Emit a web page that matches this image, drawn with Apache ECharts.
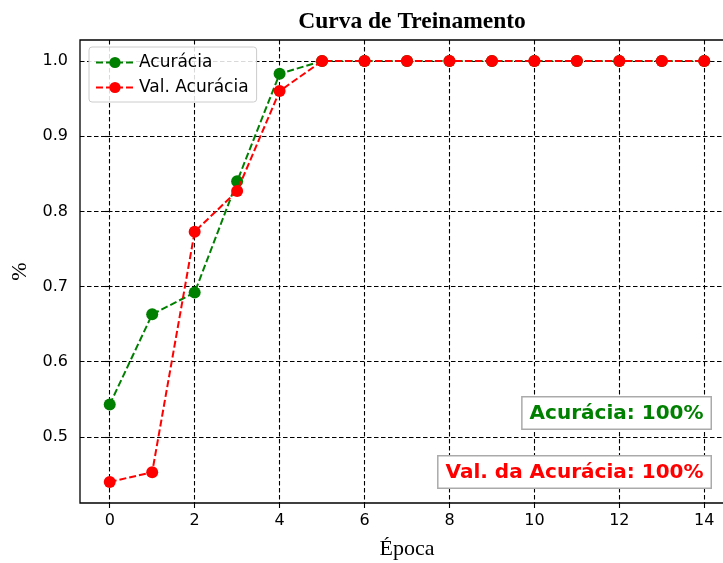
<!DOCTYPE html>
<html><head><meta charset="utf-8">
<script src="https://cdn.jsdelivr.net/npm/echarts@6/dist/echarts.min.js"></script>
<style>html,body{margin:0;padding:0;background:#fff}#c{width:723px;height:563px}</style>
</head><body><div id="c"></div>
<script>
const epochs = [0,1,2,3,4,5,6,7,8,9,10,11,12,13,14];
const acuracia = [0.543,0.663,0.692,0.840,0.983,1,1,1,1,1,1,1,1,1,1];
const valAcuracia = [0.440,0.453,0.773,0.827,0.960,1,1,1,1,1,1,1,1,1,1];
const xTicks = [0,2,4,6,8,10,12,14];
const yTicks = [0.5,0.6,0.7,0.8,0.9,1.0];

const chart = echarts.init(document.getElementById('c'), null, {renderer:'canvas'});
const gridDash = {color:'#000', width:1.1, type:[4.5,2.5]};
function mk(vals){ return epochs.map((e,i)=>[e, vals[i]]); }
chart.setOption({
  animation:false,
  title:{text:'Curva de Treinamento', left:407, textAlign:'center', top:5,
    textStyle:{fontFamily:'Liberation Serif', fontWeight:'bold', fontSize:23.5, color:'#000'}},
  grid:{left:80, top:40, right:-11, bottom:60, show:true, borderColor:'#000', borderWidth:1.3,
    containLabel:false, outerBoundsMode:'none'},
  legend:{left:89, top:47, orient:'vertical', itemGap:8, padding:[7,8,6,6],
    backgroundColor:'rgba(255,255,255,0.85)', borderColor:'#ccc', borderWidth:1, borderRadius:3,
    itemWidth:38, itemHeight:14,
    textStyle:{fontFamily:'DejaVu Sans', fontSize:17, color:'#000'},
    data:['Acurácia','Val. Acurácia']},
  xAxis:{type:'value', min:-0.7, max:14.7,
    name:'Época', nameLocation:'middle', nameGap:35,
    nameTextStyle:{fontFamily:'Liberation Serif', fontSize:22, color:'#000'},
    axisLine:{show:false},
    axisTick:{show:true, inside:false, length:5, customValues:xTicks, lineStyle:{color:'#000', width:1.1}},
    axisLabel:{customValues:xTicks, fontFamily:'DejaVu Sans', fontSize:16, color:'#000', margin:10},
    splitLine:{show:true, lineStyle:gridDash}},
  yAxis:{type:'value', min:0.412, max:1.028,
    name:'%', nameLocation:'middle', nameGap:47,
    nameTextStyle:{fontFamily:'Liberation Serif', fontSize:22, color:'#000'},
    axisLine:{show:false},
    axisTick:{show:true, inside:false, length:5, customValues:yTicks, lineStyle:{color:'#000', width:1.1}},
    axisLabel:{customValues:yTicks, fontFamily:'DejaVu Sans', fontSize:16, color:'#000', margin:12,
      formatter:v=>v.toFixed(1)},
    splitLine:{show:true, lineStyle:gridDash}},
  series:[
    {name:'Acurácia', type:'line', data:mk(acuracia), clip:false, symbol:'circle', symbolSize:12,
      itemStyle:{color:'#008000'}, lineStyle:{color:'#008000', width:2, type:[7,3]}, z:3},
    {name:'Val. Acurácia', type:'line', data:mk(valAcuracia), clip:false, symbol:'circle', symbolSize:12,
      itemStyle:{color:'#ff0000'}, lineStyle:{color:'#ff0000', width:2, type:[7,3]}, z:4}
  ],
  graphic:[
    {type:'text', right:11, top:396, z:10, style:{text:'Acurácia: 100%', fill:'#008000',
      font:'bold 20px "DejaVu Sans"', backgroundColor:'#fff', borderColor:'#aaa', borderWidth:1.5,
      padding:[6,7,5,7]}},
    {type:'text', right:11, top:455, z:10, style:{text:'Val. da Acurácia: 100%', fill:'#ff0000',
      font:'bold 20px "DejaVu Sans"', backgroundColor:'#fff', borderColor:'#aaa', borderWidth:1.5,
      padding:[6,7,5,7]}}
  ]
});
</script></body></html>
